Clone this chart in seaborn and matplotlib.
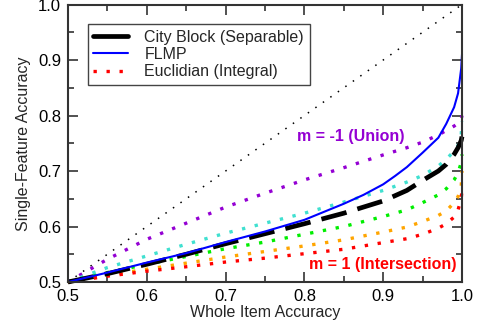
import numpy as np
import pandas as pd
import matplotlib
matplotlib.use("Agg")
import matplotlib.pyplot as plt
from matplotlib.lines import Line2D
import seaborn as sns

# whole item accuracy (x) grid shared by the dotted / dashed curves
whole_acc = [0.5, 0.55, 0.6, 0.65, 0.7, 0.75, 0.8, 0.85, 0.9, 0.93, 0.95,
             0.97, 0.98, 0.99, 0.995, 0.999, 1.0]

# single-feature accuracy
union_m1 = [0.5, 0.541, 0.577, 0.606, 0.635, 0.660, 0.684, 0.706, 0.729, 0.742,
            0.752, 0.765, 0.773, 0.781, 0.786, 0.793, 0.800]
cyan_m = [0.5, 0.526, 0.547, 0.568, 0.588, 0.606, 0.624, 0.644, 0.665, 0.680,
          0.692, 0.709, 0.721, 0.736, 0.746, 0.765, 0.790]
city_block = [0.5, 0.515, 0.532, 0.550, 0.569, 0.587, 0.605, 0.624, 0.646, 0.665,
              0.683, 0.700, 0.712, 0.730, 0.742, 0.755, 0.762]
green_m = [0.5, 0.517, 0.532, 0.546, 0.560, 0.572, 0.586, 0.600, 0.618, 0.630,
           0.643, 0.657, 0.668, 0.684, 0.697, 0.715, 0.730]
orange_m = [0.5, 0.5125, 0.523, 0.534, 0.545, 0.555, 0.565, 0.576, 0.590, 0.599,
            0.609, 0.620, 0.628, 0.643, 0.654, 0.672, 0.700]
euclid = [0.5, 0.5105, 0.5195, 0.5275, 0.536, 0.543, 0.551, 0.559, 0.571, 0.578,
          0.586, 0.597, 0.605, 0.617, 0.630, 0.650, 0.667]

# FLMP curve (read with a few extra points where it bends)
flmp_x = [0.5, 0.55, 0.6, 0.65, 0.7, 0.75, 0.8, 0.85, 0.875, 0.9, 0.915, 0.93,
          0.95, 0.97, 0.98, 0.99, 0.995, 0.999, 1.0]
flmp = [0.5, 0.517, 0.535, 0.552, 0.572, 0.591, 0.612, 0.641, 0.657, 0.676,
        0.691, 0.707, 0.733, 0.760, 0.785, 0.815, 0.840, 0.885, 0.910]

diag = [0.5, 1.0]

sns.set_style("ticks")
plt.rcParams['font.family'] = ['Liberation Sans', 'DejaVu Sans']

fig = plt.figure(figsize=(4.79, 3.27), dpi=100)
ax = fig.add_axes([0.142, 0.1376, 0.8225, 0.8486])

dot = (0, (1, 2.9))
sns.lineplot(x=diag, y=diag, ax=ax, color='black', lw=1.1,
             linestyle=(0, (1, 5)), dash_capstyle='butt')

curves = [
    (union_m1, 'darkviolet'),
    (cyan_m, 'turquoise'),
    (green_m, '#00ee00'),
    (orange_m, 'orange'),
    (euclid, 'red'),
]
for vals, col in curves:
    sns.lineplot(x=whole_acc, y=vals, ax=ax, color=col, lw=2.4,
                 linestyle=dot, dash_capstyle='butt', clip_on=False)

sns.lineplot(x=whole_acc, y=city_block, ax=ax, color='black', lw=3.4,
             linestyle=(0, (5.5, 2.4)), dash_capstyle='butt', clip_on=False)
sns.lineplot(x=flmp_x, y=flmp, ax=ax, color='blue', lw=1.5, clip_on=False)

ax.set_xlim(0.5, 1.0)
ax.set_ylim(0.5, 1.0)
ax.set_xticks(np.arange(0.5, 1.01, 0.1))
ax.set_yticks(np.arange(0.5, 1.01, 0.1))
ax.set_xticks(np.arange(0.55, 1.0, 0.1), minor=True)
ax.set_yticks(np.arange(0.55, 1.0, 0.1), minor=True)
ax.xaxis.set_major_formatter(matplotlib.ticker.FormatStrFormatter('%.1f'))
ax.yaxis.set_major_formatter(matplotlib.ticker.FormatStrFormatter('%.1f'))
ax.tick_params(which='both', direction='in', top=True, right=True,
               colors='#333333', labelcolor='black', width=1.2)
ax.tick_params(which='major', length=7, labelsize=12, pad=5)
ax.tick_params(which='minor', length=4)
for s in ax.spines.values():
    s.set_linewidth(1.5)
    s.set_color('#333333')

ax.set_xlabel('Whole Item Accuracy', fontsize=11.5, labelpad=1)
ax.set_ylabel('Single-Feature Accuracy', fontsize=11.5, labelpad=5)

ax.text(0.927, 0.763, 'm = -1 (Union)', color='darkviolet', fontsize=11.5,
        fontweight='bold', ha='right', va='center')
ax.text(0.993, 0.531, 'm = 1 (Intersection)', color='red', fontsize=11.5,
        fontweight='bold', ha='right', va='center')

handles = [
    Line2D([], [], color='black', lw=3.4, linestyle='-'),
    Line2D([], [], color='blue', lw=1.5),
    Line2D([], [], color='red', lw=2.4, linestyle=dot, dash_capstyle='butt'),
]
labels = ['City Block (Separable)', 'FLMP', 'Euclidian (Integral)']
leg = ax.legend(handles, labels, loc='upper left', bbox_to_anchor=(0.05, 0.93),
                borderaxespad=0, fancybox=False, fontsize=11.5, handlelength=2.2,
                handletextpad=1.0, labelspacing=0.15, borderpad=0.35,
                framealpha=1)
leg.get_frame().set_edgecolor('#444444')
leg.get_frame().set_linewidth(1.0)

fig.savefig('out.png', dpi=100)
